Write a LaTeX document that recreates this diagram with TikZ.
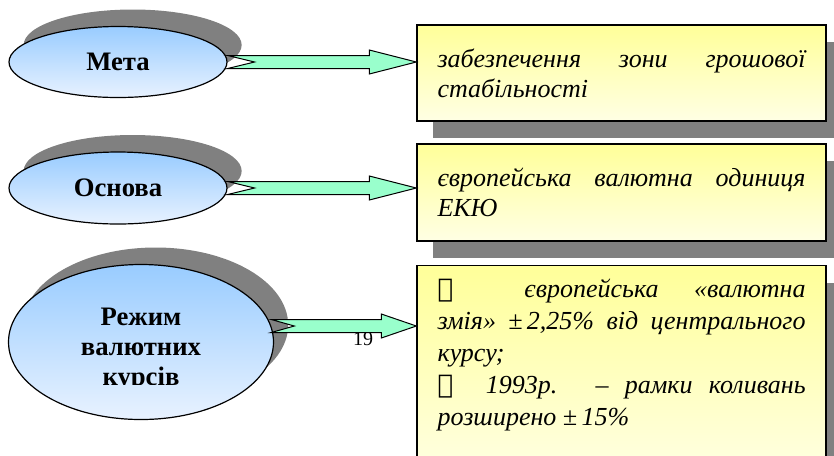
\documentclass[tikz,border=0pt]{standalone}
\usepackage{fontspec}
\setmainfont{Liberation Serif}
\newfontfamily\checkface{DejaVu Serif}
\usetikzlibrary{calc,positioning,shapes.geometric}

\definecolor{ovaltop}{RGB}{153,204,255}
\definecolor{ovalbot}{RGB}{232,242,255}
\definecolor{boxtop}{RGB}{255,255,153}
\definecolor{boxbot}{RGB}{255,255,228}
\definecolor{arrowfill}{RGB}{153,255,204}
\definecolor{shadowgray}{RGB}{128,128,128}

\begin{document}
\begin{tikzpicture}[x=0.75pt,y=-0.75pt,
    oval/.style={ellipse, draw=black, line width=0.9pt, inner sep=0pt,
      top color=ovaltop, bottom color=ovalbot,
      preaction={fill=shadowgray, draw=none, transform canvas={shift={(11pt,12.75pt)}}}},
    ovaltext/.style={align=center, font=\fontsize{20}{22.5}\selectfont\bfseries},
    box/.style={rectangle, draw=black, line width=1pt, inner xsep=15.375pt,
      minimum width=306.75pt, top color=boxtop, bottom color=boxbot,
      preaction={fill=shadowgray, draw=none, transform canvas={shift={(12pt,-12.75pt)}}}},
    boxtext/.style={text width=276pt, align=justify,
      font=\fontsize{19.5}{22.5}\selectfont\itshape},
    fatarrow/.style={draw=black, line width=0.75pt, fill=arrowfill, line join=miter}]
  \path[use as bounding box] (0,0) rectangle (834,455);

  % left ovals
  \node[oval, ovaltext, minimum width=163.5pt, minimum height=53.25pt] (m) at (118,62) {Мета};
  \node[oval, ovaltext, minimum width=163.5pt, minimum height=54pt] (o) at (118,188) {Основа};
  \node[oval, minimum width=198.75pt, minimum height=116.25pt] (r) at (141,342) {};
  \begin{scope}
    \clip (r.west|-r.north) rectangle ($(r.east)+(0,42)$);
    \node[ovaltext] (rl) at ($(r.center)+(0,8)$) {Режим\\валютних\\курсів};
  \end{scope}
  \coordinate (t3) at (r.7);

  % right boxes
  \node[box, boxtext, minimum height=72pt] (b1) at (621.5,73)
    {забезпечення зони грошової\linebreak стабільності};
  \node[box, boxtext, minimum height=72.75pt] (b2) at (621.5,192.5)
    {європейська валютна одиниця\linebreak ЕКЮ};
  \node[box, minimum height=160pt, anchor=north] (b3) at (621.5,265) {};
  \node[boxtext, font=\fontsize{19.5}{24}\selectfont\itshape, inner sep=0pt,
        below right=10.5pt and 15.75pt of b3.north west] (b3text)
    {{\checkface ✓}\ \ європейська «валютна\linebreak
     змія» ±\,2,25\% від центрального\linebreak курсу;\\
     {\checkface ✓}\ \ 1993р. – рамки коливань\linebreak розширено ±\,15\%};

  \node[font=\fontsize{15}{18}\selectfont] (pg) at (363,339) {19};

  % arrows
  \foreach \tl/\bx/\hl/\nl in {m.east/b1/47/27, o.east/b2/47/27, t3/b3/35/23}
    \draw[fatarrow] ($(\tl)+(0,-6.5)$) -- ($(\bx.west|-\tl)+(-\hl,-6.5)$)
      -- ($(\bx.west|-\tl)+(-\hl,-12)$) -- (\bx.west|-\tl)
      -- ($(\bx.west|-\tl)+(-\hl,12)$) -- ($(\bx.west|-\tl)+(-\hl,6.5)$)
      -- ($(\tl)+(0,6.5)$) -- ($(\tl)+(\nl,0)$) -- cycle;
\end{tikzpicture}
\end{document}
